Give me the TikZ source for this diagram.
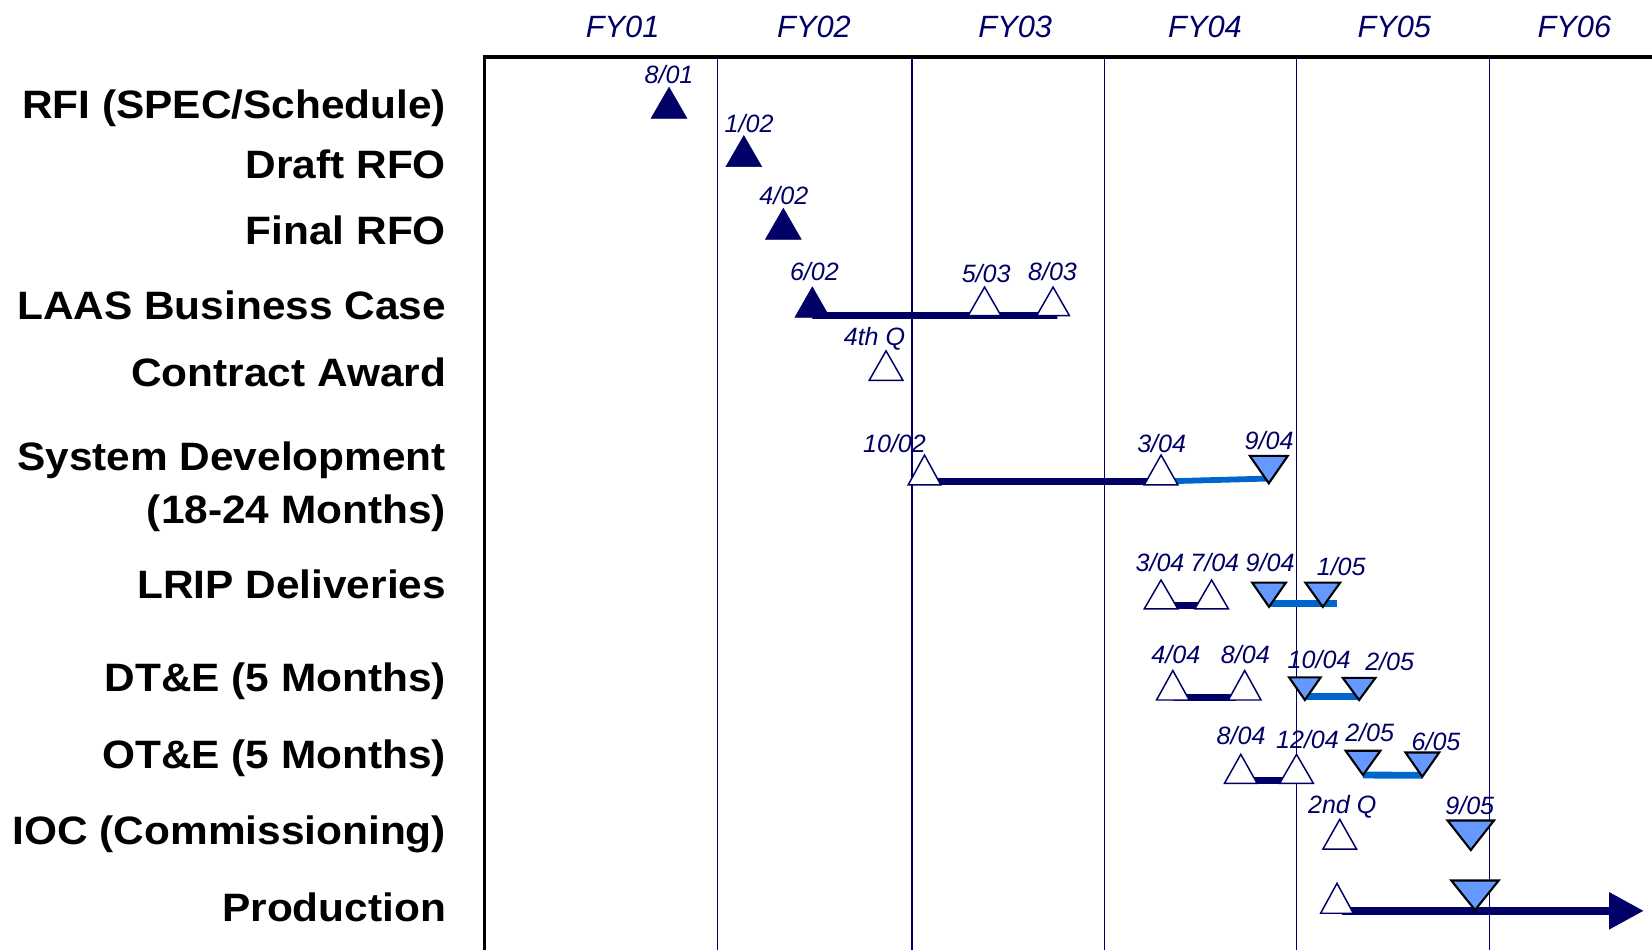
\documentclass[tikz,border=0pt]{standalone}
\usepackage{fontspec}
\setmainfont{Liberation Sans}
\newfontfamily\labfont[FakeStretch=1.07]{Liberation Sans}
\usetikzlibrary{arrows.meta}
\definecolor{navy}{RGB}{0,0,102}
\definecolor{barblue}{RGB}{0,102,204}
\definecolor{trifill}{RGB}{102,153,255}
\tikzset{
  rowlabel/.style={anchor=base east, inner sep=0pt, text=black,
    font=\labfont\bfseries\fontsize{37.6}{40}\selectfont},
  fylabel/.style={anchor=base, inner sep=0pt, text=navy,
    font=\itshape\fontsize{29.2}{31}\selectfont},
  datelabel/.style={anchor=base, inner sep=0pt, text=navy,
    font=\itshape\fontsize{23.8}{25}\selectfont},
  yearline/.style={draw=navy, line width=1.2pt},
  frameline/.style={draw=black, line width=3.5pt},
  msdone/.style={fill=navy, draw=navy, line width=0.5pt, line join=miter},
  msopen/.style={fill=white, draw=navy, line width=1.4pt, line join=miter},
  msfc/.style={fill=trifill, draw=black, line width=2pt, line join=miter},
  navybar/.style={draw=navy, line width=6.5pt},
  bluebar/.style={draw=barblue, line width=6.5pt},
  prodarrow/.style={draw=navy, line width=8pt, -{Triangle[length=33pt,width=33pt]}},
}
% up triangle: style, base-centre coordinate, width, height
\newcommand\TriUp[4]{\path[#1] ([xshift=-#3/2]#2) -- ([xshift=#3/2]#2) -- ([yshift=#4]#2) -- cycle;}
% down triangle: style, apex coordinate, width, height
\newcommand\TriDn[4]{\path[#1] (#2) -- ([xshift=-#3/2,yshift=#4]#2) -- ([xshift=#3/2,yshift=#4]#2) -- cycle;}
\begin{document}
\begin{tikzpicture}[x=1pt,y=-1pt]
\useasboundingbox (0,0) rectangle (1568,902);

% ---- year grid ----
\foreach \gx [count=\i] in {681,865.5,1048.5,1230.5,1414}{
  \coordinate (gt\i) at (\gx,54);
  \coordinate (gb\i) at (\gx,902);
  \draw[yearline] (gt\i) -- (gb\i);
}
\coordinate (frTL) at (459.8,54.2);
\coordinate (frTR) at (1568,54.2);
\coordinate (frBL) at (459.8,902);
\draw[frameline] (frBL) -- (frTL);
\draw[frameline] ([xshift=-1.75pt]frTL) -- (frTR);

% ---- FY headers ----
\node[fylabel] (fy01) at (591,35.4) {FY01};
\node[fylabel] (fy02) at (772.6,35.4) {FY02};
\node[fylabel] (fy03) at (963.6,35.4) {FY03};
\node[fylabel] (fy04) at (1143.7,35.4) {FY04};
\node[fylabel] (fy05) at (1323.4,35.4) {FY05};
\node[fylabel] (fy06) at (1494.3,35.4) {FY06};

% ---- row labels ----
\node[rowlabel] (rRFI) at (423.5,112.3) {RFI (SPEC/Schedule)};
\node[rowlabel] (rDraft) at (423.5,169.3) {Draft RFO};
\node[rowlabel] (rFinal) at (423.5,231.9) {Final RFO};
\node[rowlabel] (rLAAS) at (423.5,303.7) {LAAS Business Case};
\node[rowlabel] (rCA) at (423.5,366.4) {Contract Award};
\node[rowlabel] (rSD) at (423.5,446.1) {System Development};
\node[rowlabel] (rSD2) at (423.5,496.4) {(18-24 Months)};
\node[rowlabel] (rLRIP) at (423.5,567.9) {LRIP Deliveries};
\node[rowlabel] (rDT) at (423.5,656.5) {DT\&E (5 Months)};
\node[rowlabel] (rOT) at (423.5,729.2) {OT\&E (5 Months)};
\node[rowlabel] (rIOC) at (423.5,802) {IOC (Commissioning)};
\node[rowlabel] (rProd) at (423.5,874.8) {Production};

% ---- milestone coordinates ----
\coordinate (a801) at (635,112.3);
\coordinate (a102) at (706,158.2);
\coordinate (a402) at (743.5,227.2);
\coordinate (a602) at (771,301.2);
\coordinate (a503) at (934.5,299.5);
\coordinate (a803) at (999.5,299.5);
\coordinate (a4q) at (841,361);
\coordinate (a1002) at (877.5,460.3);
\coordinate (a304s) at (1102,460.3);
\coordinate (d904s) at (1204.3,458.7);
\coordinate (a304l) at (1102,578);
\coordinate (a704l) at (1150,578);
\coordinate (d904l) at (1204.5,576);
\coordinate (d105l) at (1255.5,576);
\coordinate (a404d) at (1113.2,664.4);
\coordinate (a804d) at (1181.4,664.4);
\coordinate (d1004d) at (1238.5,664.4);
\coordinate (d205d) at (1290,664.4);
\coordinate (a804o) at (1177.7,743.5);
\coordinate (a1204o) at (1230.6,743.5);
\coordinate (d205o) at (1293.7,735.6);
\coordinate (d605o) at (1350,737.2);
\coordinate (a2q) at (1271.6,806);
\coordinate (d905i) at (1396,806.8);
\coordinate (aprod) at (1269,866.8);
\coordinate (d905p) at (1400,863.7);
\coordinate (prodend) at (1560.4,864.5);

% ---- bars ----
\draw[navybar] ([yshift=1.8pt]a602) -- ([xshift=4pt]a803);
\draw[navybar] ([yshift=3.3pt]a1002) -- ([yshift=3.3pt]a304s);
\draw[bluebar,line width=5.5pt] ([yshift=3.3pt]a304s) -- ([yshift=4.5pt]d904s);
\draw[navybar] ([yshift=3.5pt]a304l) -- ([yshift=3.5pt]a704l);
\draw[bluebar] ([yshift=3pt]d904l) -- ([xshift=13.5pt,yshift=3pt]d105l);
\draw[navybar] ([yshift=2.6pt]a404d) -- ([xshift=-8pt,yshift=2.6pt]a804d);
\draw[bluebar] ([yshift=3.4pt]d1004d) -- ([yshift=3.4pt]d205d);
\draw[navybar] ([yshift=2.3pt]a804o) -- ([xshift=-12pt,yshift=2.3pt]a1204o);
\draw[bluebar] ([yshift=0pt]d205o) -- ([yshift=1.3pt]d605o);
\draw[prodarrow] ([xshift=5pt,yshift=2.3pt]aprod) -- (prodend);

% ---- triangles ----
\TriUp{msdone}{a801}{34}{29.5}
\TriUp{msdone}{a102}{34}{29.5}
\TriUp{msdone}{a402}{34}{29.5}
\TriUp{msdone}{a602}{33}{29}
\TriUp{msopen}{a503}{31}{27}
\TriUp{msopen}{a803}{31}{27}
\TriUp{msopen}{a4q}{32}{28}
\TriUp{msopen}{a1002}{31}{28.4}
\TriUp{msopen}{a304s}{32}{28.4}
\TriDn{msfc}{d904s}{36}{26}
\TriUp{msopen}{a304l}{32}{27.5}
\TriUp{msopen}{a704l}{32}{27.5}
\TriDn{msfc}{d904l}{32}{23}
\TriDn{msfc}{d105l}{33}{23}
\TriUp{msopen}{a404d}{31}{28}
\TriUp{msopen}{a804d}{31}{28}
\TriDn{msfc}{d1004d}{30}{21.5}
\TriDn{msfc}{d205d}{31}{21}
\TriUp{msopen}{a804o}{31}{27.5}
\TriUp{msopen}{a1204o}{32}{27.5}
\TriDn{msfc}{d205o}{33}{23}
\TriDn{msfc}{d605o}{32}{23}
\TriUp{msopen}{a2q}{32}{28.3}
\TriDn{msfc}{d905i}{44}{28}
\TriUp{msopen}{aprod}{31}{28.4}
\TriDn{msfc}{d905p}{45}{28}

% ---- date labels ----
\node[datelabel] (l801) at (635,79) {8/01};
\node[datelabel] (l102) at (711,126) {1/02};
\node[datelabel] (l402) at (744,194) {4/02};
\node[datelabel] (l602) at (773,266) {6/02};
\node[datelabel] (l503) at (936,268) {5/03};
\node[datelabel] (l803) at (999,266) {8/03};
\node[datelabel] (l4q) at (830,328) {4th Q};
\node[datelabel] (l1002) at (849,429.3) {10/02};
\node[datelabel] (l304s) at (1102.6,429.3) {3/04};
\node[datelabel] (l904s) at (1204.6,427) {9/04};
\node[datelabel] (l304l) at (1101,542.6) {3/04};
\node[datelabel] (l704l) at (1153,542.6) {7/04};
\node[datelabel] (l904l) at (1205.5,542.6) {9/04};
\node[datelabel] (l105l) at (1273,545.8) {1/05};
\node[datelabel] (l404d) at (1116,629.6) {4/04};
\node[datelabel] (l804d) at (1182,629.6) {8/04};
\node[datelabel] (l1004d) at (1252,634.3) {10/04};
\node[datelabel] (l205d) at (1319,636) {2/05};
\node[datelabel] (l804o) at (1178,706.2) {8/04};
\node[datelabel] (l1204o) at (1241,710.3) {12/04};
\node[datelabel] (l205o) at (1300,704) {2/05};
\node[datelabel] (l605o) at (1363,711.9) {6/05};
\node[datelabel] (l2q) at (1274,772) {2nd Q};
\node[datelabel] (l905i) at (1395,773.5) {9/05};
\end{tikzpicture}
\end{document}
